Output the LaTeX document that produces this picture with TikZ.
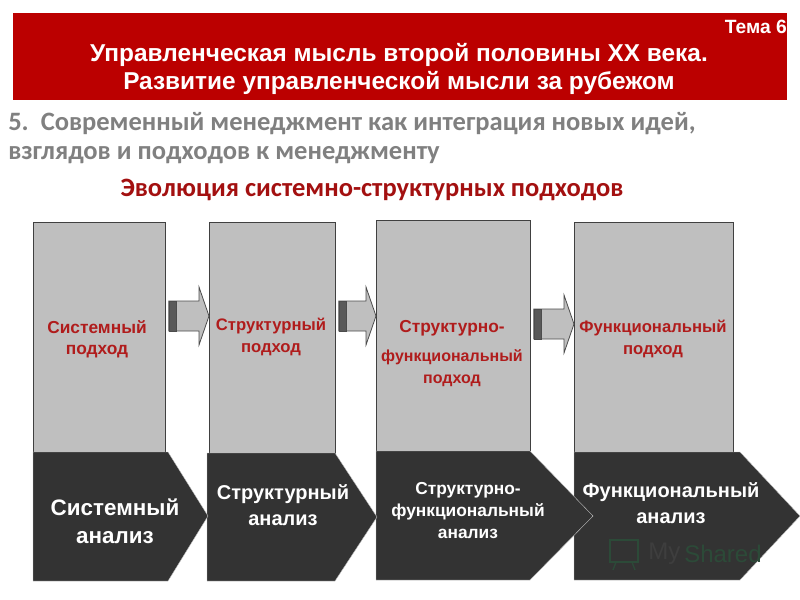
\documentclass[tikz,border=0pt]{standalone}
\usepackage{fontspec}
\setmainfont{Liberation Sans}
\newfontfamily\subfont{Carlito}
\usetikzlibrary{calc}
\definecolor{headred}{HTML}{BB0000}
\definecolor{labelred}{HTML}{B01C1C}
\definecolor{titlered}{HTML}{A31010}
\definecolor{boxgray}{HTML}{BFBFBF}
\definecolor{darkbox}{HTML}{333333}
\definecolor{subgray}{HTML}{808080}
\definecolor{markgreen}{HTML}{2C4A38}
\definecolor{markgray}{HTML}{3E3E3E}
\tikzset{
  panel/.style={draw=black!75,fill=boxgray,line width=.6pt,inner sep=0pt,anchor=north west},
  panellabel/.style={text=labelred,font=\bfseries\fontsize{12.5}{16}\selectfont,align=center},
  darkshape/.style={fill=darkbox,draw=white!70!darkbox,line width=.3pt},
  darklabel/.style={text=white,font=\bfseries\fontsize{15}{19}\selectfont,align=center},
  fatline/.style={draw=black!70,fill=boxgray,line width=.6pt},
  fatband/.style={draw=black!70,fill=black!65,line width=.4pt}
}
\newcommand{\fatarrow}[3]{%
  \coordinate (s) at (#1.east |- 0,#3);
  \coordinate (e) at (#2.west |- 0,#3);
  \draw[fatline] ($(s)+(3,-15)$) -- ($(e)+(-10,-15)$) -- ($(e)+(-10,-29)$) -- (e)
    -- ($(e)+(-10,29)$) -- ($(e)+(-10,15)$) -- ($(s)+(3,15)$) -- cycle;
  \draw[fatband] ($(s)+(3,-15)$) rectangle ($(s)+(10,15)$);
}
\begin{document}
\begin{tikzpicture}[x=.75pt,y=-.75pt]
  \useasboundingbox (0,0) rectangle (800,600);
  % header
  \fill[headred] (13,13) rectangle (787,100);
  \node[anchor=east,inner sep=0pt,text=white,font=\bfseries\fontsize{14.4}{16}\selectfont] (tema) at (787,27) {Тема 6};
  \node[text=white,font=\bfseries\fontsize{18.3}{20}\selectfont,inner sep=0pt] (head1) at (399,55) {Управленческая мысль второй половины ХХ века.};
  \node[text=white,font=\bfseries\fontsize{18.3}{20}\selectfont,inner sep=0pt] (head2) at (399,83) {Развитие управленческой мысли за рубежом};
  % subtitle
  \node[anchor=west,inner sep=0pt,text=subgray,font=\subfont\bfseries\fontsize{19.9}{22}\selectfont] (sub1) at (8,124) {5.\ \ Современный менеджмент как интеграция новых идей,};
  \node[anchor=west,inner sep=0pt,text=subgray,font=\subfont\bfseries\fontsize{19.9}{22}\selectfont] (sub2) at (8,155) {взглядов и подходов к менеджменту};
  \node[inner sep=0pt,text=titlered,font=\subfont\bfseries\fontsize{19.9}{22}\selectfont] (evol) at (372,190) {Эволюция системно-структурных подходов};
  % panels
  \node[panel,minimum width=99pt,minimum height=172.5pt] (sys) at (33,222) {};
  \node[panel,minimum width=94.5pt,minimum height=173.25pt] (str) at (209,222) {};
  \node[panel,minimum width=115.5pt,minimum height=174pt] (strf) at (376,220) {};
  \node[panel,minimum width=119.25pt,minimum height=172.5pt] (fun) at (574,222) {};
  \fatarrow{sys}{str}{316}
  \fatarrow{str}{strf}{316}
  \fatarrow{strf}{fun}{324}
  \node[panellabel,font=\bfseries\fontsize{13}{16}\selectfont] (sysl) at (97,339) {Системный\\подход};
  \node[panellabel] (strl) at (271,337) {Структурный\\подход};
  \node[panellabel,font=\bfseries\fontsize{13}{16}\selectfont] (strfa) at (452,328) {Структурно-};
  \node[panellabel,font=\bfseries\fontsize{12}{16}\selectfont] (strfb) at (452,368) {функциональный\\подход};
  \node[panellabel] (funl) at (653,339) {Функциональный\\подход};
  % dark blocks
  \draw[darkshape] (574,452) -- (740,452) -- (800,516) -- (740,580) -- (574,580) -- cycle;
  \draw[darkshape] (376,451) -- (530,451) -- (593,516) -- (530,580) -- (376,580) -- cycle;
  \draw[darkshape] (207,453) -- (335,453) -- (377,517) -- (335,581) -- (207,581) -- cycle;
  \draw[darkshape] (33,452) -- (168,452) -- (208,516) -- (168,581) -- (33,581) -- cycle;
  \node[darklabel,font=\bfseries\fontsize{16.8}{21}\selectfont] (sysa) at (115,521) {Системный\\анализ};
  \node[darklabel] (stra) at (283,505) {Структурный\\анализ};
  \node[darklabel,font=\bfseries\fontsize{13}{16.5}\selectfont] (strfl) at (468,511) {Структурно-\\функциональный\\анализ};
  \node[darklabel] (funa) at (671,503) {Функциональный\\анализ};
  % watermark
  \draw[markgreen,line width=1pt] (610,540) rectangle (638,562);
  \draw[markgreen,line width=1pt] (616,562) -- (613,570) (632,562) -- (635,570);
  \node[inner sep=0pt,anchor=west,text=markgray,font=\fontsize{18}{20}\selectfont] (markmy) at (648,554) {My};
  \node[inner sep=0pt,anchor=west,text=markgreen,font=\fontsize{18}{20}\selectfont] (markshared) at (684,554) {Shared};
\end{tikzpicture}
\end{document}
